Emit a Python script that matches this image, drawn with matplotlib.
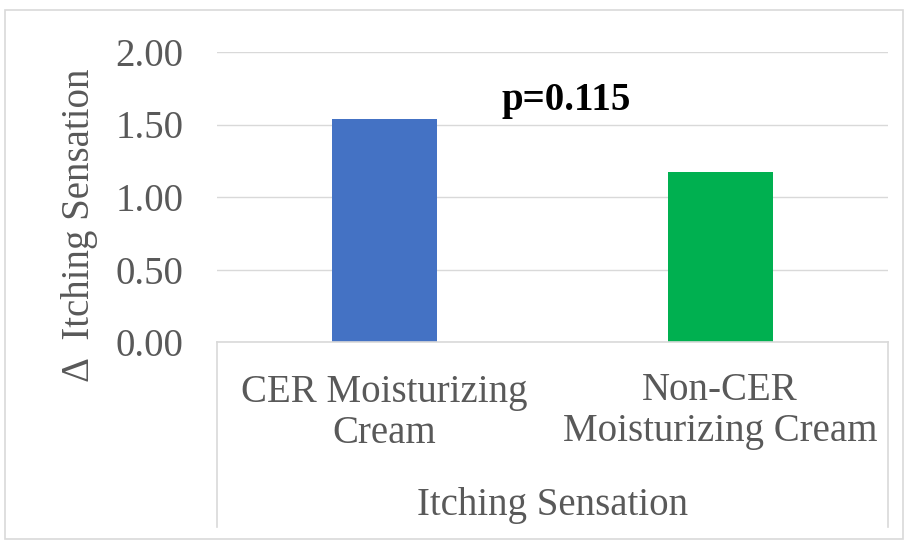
import matplotlib
matplotlib.use("Agg")
import matplotlib.pyplot as plt
from matplotlib.patches import Rectangle
from matplotlib.transforms import blended_transform_factory

# data
categories = ["CER Moisturizing\nCream", "Non-CER\nMoisturizing Cream"]
values = [1.54, 1.17]
bar_colors = ["#4472C4", "#00B050"]
yticks = [0.0, 0.5, 1.0, 1.5, 2.0]
group_label = "Itching Sensation"
ylabel = "\u0394  Itching Sensation"
p_text = "p=0.115"

plt.rcParams['font.family'] = ['Liberation Serif', 'DejaVu Serif']
grey_text = "#595959"
grid_col = "#D9D9D9"

W, H = 920, 541
fig = plt.figure(figsize=(W / 100, H / 100), dpi=100)

# plot area in pixels: x 217..888, y 52..342
left, right, top, bottom = 217, 888, 52, 342
ax = fig.add_axes([left / W, 1 - bottom / H, (right - left) / W, (bottom - top) / H])

x = list(range(len(categories)))
ax.bar(x, values, width=0.313, color=bar_colors, zorder=3)

ax.set_xlim(-0.5, len(categories) - 0.5)
ax.set_ylim(0, 2.0)
ax.set_yticks(yticks)
ax.set_yticklabels([f"{v:.2f}" for v in yticks])
ax.tick_params(axis='y', length=0, pad=24, labelsize=28, labelcolor=grey_text)
ax.set_xticks([])
for s in ax.spines.values():
    s.set_visible(False)
ax.grid(axis='y', color=grid_col, linewidth=1.0, zorder=0)

# category axis: bottom line and the two outer dividers running down
axis_depth = (527 - bottom) / (bottom - top)
ax.plot([0, 1], [0, 0], transform=ax.transAxes, color=grid_col, lw=1.2,
        clip_on=False, zorder=4)
for xx in (0, 1):
    ax.plot([xx, xx], [0, -axis_depth], transform=ax.transAxes, color=grid_col,
            lw=1.2, clip_on=False)

trans = blended_transform_factory(ax.transData, ax.transAxes)
px = 1.0 / (bottom - top)
last_baselines = [443, 441]
for i, lab in enumerate(categories):
    ax.text(i, -(last_baselines[i] - bottom) * px, lab, transform=trans,
            ha='center', va='baseline', fontsize=28, color=grey_text,
            linespacing=1.13)
ax.text(0.5, -(515 - bottom) * px, group_label, transform=ax.transAxes,
        ha='center', va='baseline', fontsize=28, color=grey_text)

ax.text(0.349, 1.6, p_text, ha='left', va='baseline', fontsize=28,
        fontweight='bold', color='black')

fig.text(80 / W, 1 - 225 / H, ylabel, rotation=90, ha='center', va='center',
         fontsize=28, color=grey_text)

# outer chart border
fig.patches.append(Rectangle((5 / W, 1 - 539 / H), (903 - 5) / W, (539 - 10) / H,
                             transform=fig.transFigure, fill=False,
                             edgecolor=grid_col, lw=1.2))

fig.savefig("out.png", dpi=100)
